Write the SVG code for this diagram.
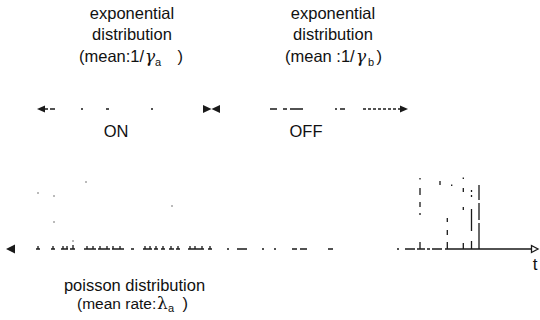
<svg xmlns="http://www.w3.org/2000/svg" width="540" height="320" viewBox="0 0 540 320">
<style>
  .t { font-family: "Liberation Sans", Arial, sans-serif; font-size: 16.5px; fill: #111; }
  .sub { font-family: "Liberation Sans", Arial, sans-serif; font-size: 11px; fill: #111; }
  .g { font-family: "DejaVu Serif", "Liberation Serif", serif; font-style: italic; font-size: 17px; fill: #111; }
  .ln { stroke: #1a1a1a; stroke-width: 1.3; fill: none; }
  .fa { stroke: #777; stroke-width: 1; fill: none; }
  .hd { fill: #1a1a1a; stroke: none; }
</style>
<rect width="540" height="320" fill="#ffffff"/>

<g id="label-on-distribution">
  <text class="t" x="132" y="18.5" text-anchor="middle">exponential</text>
  <text class="t" x="132" y="40" text-anchor="middle">distribution</text>
  <text class="t" x="79" y="62">(mean:1/</text>
  <text class="g" x="145" y="62">γ</text>
  <text class="sub" x="155" y="65.5">a</text>
  <text class="t" x="177.5" y="62">)</text>
</g>

<g id="label-off-distribution">
  <text class="t" x="333" y="18.5" text-anchor="middle">exponential</text>
  <text class="t" x="333" y="40" text-anchor="middle">distribution</text>
  <text class="t" x="285" y="62">(mean :1/</text>
  <text class="g" x="356" y="62">γ</text>
  <text class="sub" x="368" y="65.5">b</text>
  <text class="t" x="376.5" y="62">)</text>
</g>

<g id="connectors">
  <g id="on-arrow">
    <polygon class="hd" points="37,109 45,105.5 45,112.5"/>
    <path class="ln" d="M45 109 H48 M50 109 H55 M81 109 H83 M106 109 H109 M151 109 H153"/>
    <polygon class="hd" points="211.5,109 203,105 203,113"/>
  </g>
  <g id="off-arrow">
    <polygon class="hd" points="211.5,109 220,105 220,113"/>
    <path class="ln" d="M270 109 H277 M283 109 H287 M290 109 H303 M335 109 H337 M340 109 H345"/>
    <path class="ln" d="M363 109 H400" stroke-dasharray="3 2"/>
    <polygon class="hd" points="408,109 400,105.5 400,112.5"/>
  </g>

  <g id="time-axis">
    <polygon class="hd" points="6,249 15,244.5 15,253.5"/>
    <path class="ln" d="M36 249 H40 M51 249 H55 M61 249 H68 M70 249 H75 M84 249 H96 M98 249 H110 M112 249 H124 M131 249 H134 M143 249 H152 M154 249 H158 M161 249 H165 M169 249 H174 M176 249 H180 M188 249 H204 M208 249 H212 M227 249 H229 M237 249 H247 M262 249 H264 M274 249 H276 M292 249 H297 M300 249 H307 M328 249 H333 M397 249 H399 M405 249 H415 M417 249 H425 M427 249 H430 M432 249 H442 M445 249 H532"/>
    <path class="ln" d="M38 249 V246 M53 249 V246 M63 249 V246 M67 249 V246 M73 249 V245 M87 249 V246 M93 249 V246 M100 249 V246 M107 249 V246 M113 249 V246 M120 249 V246 M145 249 V246 M150 249 V246 M156 249 V246 M163 249 V246 M171 249 V246 M178 249 V246 M190 249 V246 M195 249 V246 M202 249 V246 M210 249 V246"/>
    <path d="M531.5 245.5 L538 249 L531.5 252.5 Z" fill="#ffffff" stroke="#1a1a1a" stroke-width="1.3"/>
  </g>

  <g id="pulses">
    <path class="ln" d="M420 178 V179.5 M420 188 V195 M420 202 V207 M420 213 V215 M420 242 V249"/>
    <path class="ln" d="M440 181 V185 M451.7 184.5 V186"/>
    <path class="ln" d="M447.3 218 V222 M447.3 230 V235 M447.3 242 V249"/>
    <path class="ln" d="M463.3 177.5 V179 M463.3 188 V192 M463.3 207 V210 M463.3 243 V249"/>
    <path class="ln" d="M471.5 190 V192 M471.5 195 V197 M471.5 209 V231 M471.5 241 V249"/>
    <path class="ln" d="M479 185 V200 M479 203 V220 M479 223 V249"/>
    <path class="fa" d="M38 192 V194 M54 195 V197 M86 181 V183 M54 221 V223 M172 205 V207 M73 240 V242"/>
  </g>
</g>

<g id="label-on">
  <text class="t" x="116" y="137" text-anchor="middle">ON</text>
</g>
<g id="label-off">
  <text class="t" x="306" y="137" text-anchor="middle">OFF</text>
</g>

<g id="label-t">
  <text class="t" x="535" y="270" text-anchor="middle" style="font-size:17px">t</text>
</g>

<g id="label-poisson">
  <text class="t" x="134.5" y="290.5" text-anchor="middle">poisson distribution</text>
  <text class="t" x="77" y="309" style="font-size:15.5px">(mean rate:</text>
  <text class="g" x="157" y="309" style="font-style:normal">λ</text>
  <text class="sub" x="168" y="312">a</text>
  <text class="t" x="182.5" y="309">)</text>
</g>
</svg>
